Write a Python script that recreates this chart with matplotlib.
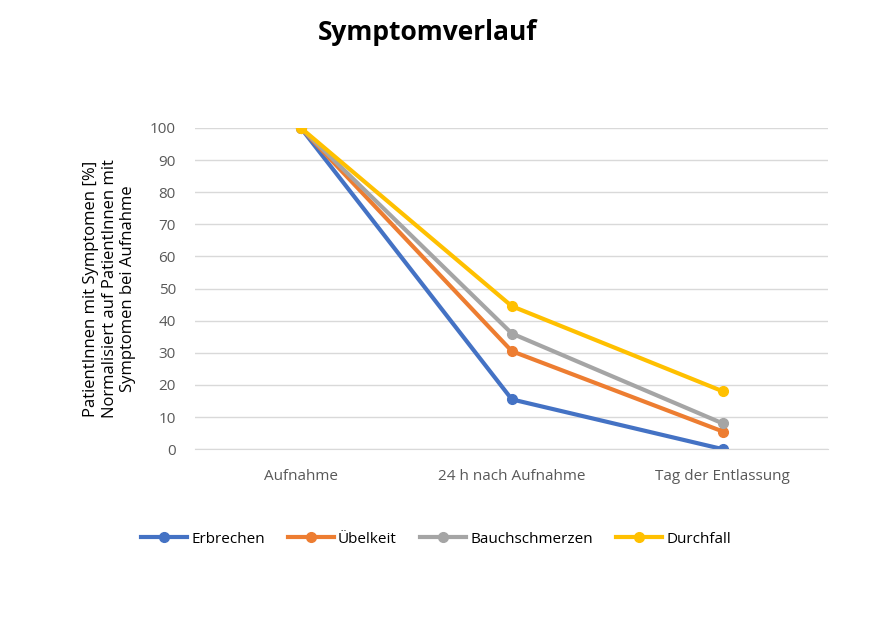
import matplotlib.pyplot as plt
import numpy as np

plt.rcParams['font.family'] = ['Open Sans', 'DejaVu Sans']

kategorien = ['Aufnahme', '24 h nach Aufnahme', 'Tag der Entlassung']
verlauf = {
    'Erbrechen': [100, 15.5, 0],
    'Übelkeit': [100, 30.5, 5.5],
    'Bauchschmerzen': [100, 36, 8],
    'Durchfall': [100, 44.5, 18],
}
farben = ['#4472C4', '#ED7D31', '#A5A5A5', '#FFC000']

def symptomplot(daten):
    fig = plt.figure(figsize=(8.72, 6.3), dpi=100)
    ax = fig.add_axes([0.224, 0.287, 0.726, 0.51])
    x = np.arange(len(kategorien))
    for (name, werte), farbe in zip(daten.items(), farben):
        ax.plot(x, werte, color=farbe, linewidth=3, marker='o', markersize=7, label=name)  # Linie mit Punkten

    ax.set_xlim(-0.5, 2.5)
    ax.set_ylim(0, 100)
    ax.set_yticks(range(0, 101, 10))
    ax.set_xticks(x)
    ax.set_xticklabels(kategorien)
    ax.tick_params(length=0, labelsize=11, colors='#595959')
    ax.tick_params(axis='x', pad=14)
    ax.tick_params(axis='y', pad=14)
    ax.grid(axis='y', color='#D9D9D9', linewidth=1)
    ax.set_axisbelow(True)
    for s in ['top', 'right', 'left']:
        ax.spines[s].set_visible(False)
    ax.spines['bottom'].set_color('#D9D9D9')

    ax.set_ylabel('PatientInnen mit Symptomen [%]\nNormalisiert auf PatientInnen mit\nSymptomen bei Aufnahme',
                  fontsize=12, labelpad=10)
    fig.text(0.49, 0.948, 'Symptomverlauf', ha='center', va='center', fontsize=19, fontweight='bold')
    ax.legend(loc='center', bbox_to_anchor=(0.38, -0.28), ncol=4, frameon=False, fontsize=11,
              handlelength=3, columnspacing=1.5, handletextpad=0.3)
    fig.savefig('out.png', dpi=100)

symptomplot(verlauf)
